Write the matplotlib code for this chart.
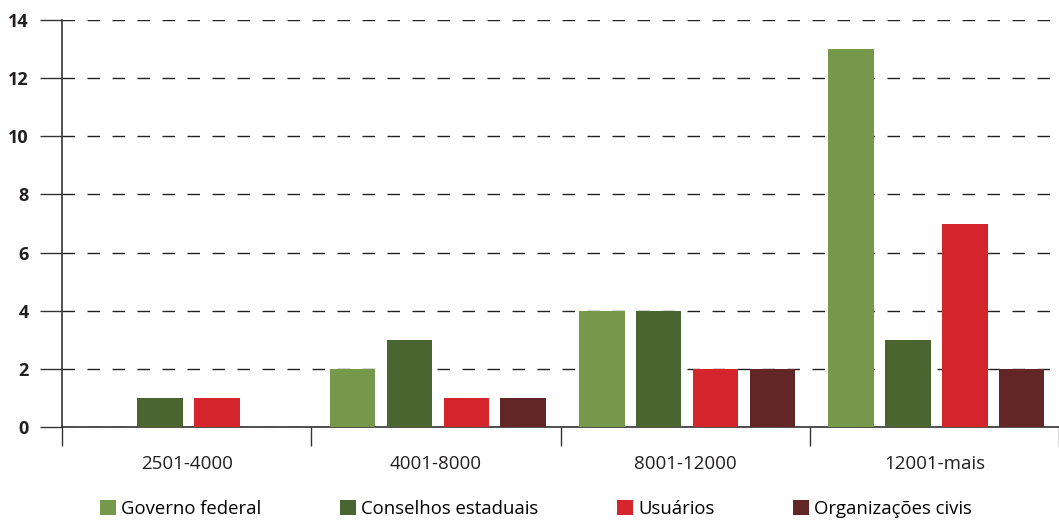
import numpy as np
import matplotlib
matplotlib.use('Agg')
import matplotlib.pyplot as plt

plt.rcParams['font.family'] = ['Open Sans', 'DejaVu Sans']

# faixas de valor e contagem por tipo de representante
faixas = ['2501-4000', '4001-8000', '8001-12000', '12001-mais']
series = ['Governo federal', 'Conselhos estaduais', 'Usuários', 'Organizações civis']
governo = [0, 2, 4, 13]
conselhos = [1, 3, 4, 3]
usuarios = [1, 1, 2, 7]
organizacoes = [0, 1, 2, 2]
cores = ['#76984b', '#4a6530', '#d4252c', '#622626']

W, H = 1059, 521
fig = plt.figure(figsize=(W / 100, H / 100), dpi=100)
ax = fig.add_axes([62 / W, (H - 427) / H, (W - 62) / W, 407 / H])

x = np.arange(len(faixas))
larg = 0.1825
passo = 0.228
valores = [governo, conselhos, usuarios, organizacoes]
for k, (vals, cor, nome) in enumerate(zip(valores, cores, series)):
    ax.bar(x + (k - 1.5) * passo + 0.008, vals, width=larg, color=cor,
           label=nome, zorder=3, linewidth=0)

ax.set_xlim(-0.5, -0.5 + (W - 62) / 252)
ax.set_ylim(0, 14)
ax.set_yticks(range(0, 15, 2))
ax.yaxis.grid(True, linestyle=(0, (9, 9)), color='#222222', linewidth=1)
ax.set_axisbelow(True)

# separadores entre faixas e rótulos centrados
ax.set_xticks(np.arange(-0.5, 4, 1))
ax.set_xticklabels([])
ax.set_xticks(x, minor=True)
ax.set_xticklabels(faixas, minor=True, fontsize=13.5, color='#231f20')
ax.tick_params(axis='x', which='major', length=14, width=1, color='#333333')
ax.tick_params(axis='x', which='minor', length=0, pad=20)
ax.tick_params(axis='y', length=16, width=1, color='#333333', pad=8,
               labelsize=13, labelcolor='#231f20')
for lab in ax.get_yticklabels():
    lab.set_fontweight('bold')

for s in ['top', 'right']:
    ax.spines[s].set_visible(False)
for s in ['left', 'bottom']:
    ax.spines[s].set_color('#333333')
    ax.spines[s].set_linewidth(1.2)

fig.legend(loc='lower center', bbox_to_anchor=(536 / W, -0.026), ncol=4,
           frameon=False, fontsize=13.3, handlelength=0.85, handleheight=0.85,
           handletextpad=0.3, columnspacing=4.25)

fig.savefig('out.png', dpi=100)
